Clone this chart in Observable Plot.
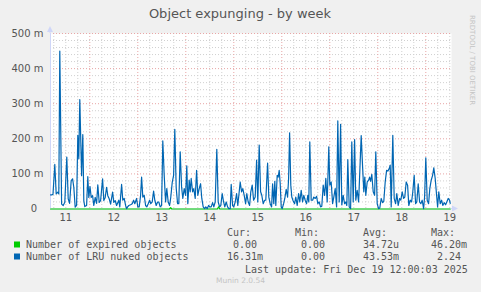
<!DOCTYPE html>
<html><head><meta charset="utf-8">
<script src="https://cdn.jsdelivr.net/npm/d3@7"></script>
<script src="https://cdn.jsdelivr.net/npm/@observablehq/plot@0.6"></script>
<style>
html,body{margin:0;padding:0;background:#f0f0f0;}
#chart{width:481px;height:292px;position:relative;}
svg{display:block;}
</style></head><body><div id="chart"></div>
<script>
// ---- chart texts ----
const chartTitle = "Object expunging - by week";
const watermark = "RRDTOOL / TOBI OETIKER";
const footer = "Munin 2.0.54";
const lastUpdate = "Last update: Fri Dec 19 12:00:03 2025";

// ---- x axis: hours since Dec 11 00:00; labels at noon of each day ----
const xDomain = [4.35, 204.85];
const dayHours = [12, 36, 60, 84, 108, 132, 156, 180, 204];
const dayLabels = ["11", "12", "13", "14", "15", "16", "17", "18", "19"];

// ---- y axis (milli units) ----
const yTicks = [0, 100, 200, 300, 400, 500];

// ---- legend ----
const seriesNames = ["Number of expired objects", "Number of LRU nuked objects"];
const seriesColors = ["#00cc00", "#0066b3"];
const statHeaders = ["Cur:", "Min:", "Avg:", "Max:"];
const expiredStats = [" 0.00", " 0.00", "34.72u", "46.20m"];
const lruStats = ["16.31m", " 0.00", "43.53m", " 2.24"];

// ---- series: Number of LRU nuked objects (milli) ----
const lruHours = [
  4.4,5.0,5.6,6.5,7.2,8.0,8.5,9.0,9.9,10.7,
  11.5,12.5,13.2,13.9,14.7,15.4,16.0,16.7,17.4,18.0,
  18.5,19.0,19.9,20.5,21.0,21.5,22.4,23.0,23.5,24.1,
  24.7,25.4,26.0,26.7,27.4,28.0,28.7,29.4,30.4,31.0,
  31.7,32.4,33.0,33.7,34.4,35.4,36.0,36.7,37.4,38.5,
  39.0,39.9,40.5,41.2,41.9,42.4,42.9,43.5,44.4,45.2,
  45.9,46.5,47.4,48.0,48.7,49.4,49.9,50.5,51.2,51.9,
  52.5,53.2,53.9,54.5,55.2,55.9,56.5,57.2,57.9,58.5,
  59.2,59.9,60.5,61.2,61.9,62.5,63.2,63.9,64.5,65.2,
  65.9,66.5,67.2,67.9,68.5,69.2,69.9,70.5,71.2,71.9,
  72.5,73.0,73.7,74.2,74.7,75.4,76.0,76.7,77.4,78.0,
  78.7,79.4,80.0,80.7,81.4,82.0,82.7,83.4,84.0,84.7,
  85.4,86.0,86.7,87.5,88.2,88.9,89.5,90.2,90.9,91.5,
  92.2,92.9,93.5,94.2,94.7,95.4,96.0,96.7,97.4,98.0,
  98.7,99.2,99.9,100.5,101.2,101.9,102.5,103.2,103.9,104.5,
  105.2,105.9,106.7,107.4,108.0,108.7,109.4,110.0,110.7,111.4,
  112.0,112.9,113.5,114.2,114.9,115.4,116.0,116.5,117.0,117.7,
  118.2,118.7,119.2,119.7,120.2,120.9,121.5,122.2,122.9,123.4,
  123.9,124.5,125.0,125.7,126.4,127.0,127.7,128.4,129.0,129.7,
  130.4,131.0,131.7,132.4,133.0,133.5,134.0,134.7,135.4,136.0,
  136.7,137.4,138.0,138.7,139.4,140.0,140.7,141.4,142.0,142.7,
  143.5,144.0,144.7,145.4,146.0,146.7,147.4,148.0,148.7,149.4,
  150.0,150.7,151.4,152.0,152.5,153.0,153.7,154.4,155.0,155.7,
  156.4,157.0,157.7,158.4,159.0,159.7,160.4,161.0,161.5,162.0,
  162.7,163.4,163.9,164.4,165.0,165.7,166.4,167.0,167.7,168.4,
  169.0,169.7,170.4,171.0,171.7,172.4,173.0,173.7,174.2,174.7,
  175.5,176.2,176.9,177.5,178.2,178.9,179.5,180.2,180.9,181.5,
  182.2,182.9,183.5,184.2,184.9,185.5,186.2,186.9,187.5,188.2,
  188.9,189.5,190.2,190.9,191.4,192.0,192.7,193.4,194.0,194.7,
  195.4,196.0,196.7,197.4,197.9,198.5,199.2,199.9,200.5,201.2,
  201.9,202.5,203.2,203.9,204.2
];
const lruValues = [
  40,40,42,127,43,48,43,450,14,10,
  19,148,29,16,81,86,62,5,10,210,
  143,312,95,212,24,7,10,92,33,64,
  33,38,10,33,16,69,19,24,86,24,
  33,62,38,29,14,48,19,24,10,25,
  6,70,25,30,10,1,6,10,12,15,
  25,15,30,6,6,39,91,34,39,10,
  6,15,25,15,20,51,25,10,20,20,
  6,10,194,96,20,58,20,10,34,75,
  96,227,60,15,15,163,63,30,58,39,
  123,15,82,49,87,49,58,30,110,39,
  58,72,30,6,1,6,1,10,6,6,
  18,6,20,170,20,6,10,44,20,6,
  20,6,1,1,70,10,6,20,44,10,
  49,77,49,58,39,15,44,20,10,49,
  68,25,34,139,20,182,49,39,15,25,
  25,131,34,15,6,72,15,79,10,96,
  91,110,72,6,1,15,30,56,34,87,
  217,68,34,23,15,34,10,44,20,53,
  20,39,25,15,39,20,191,25,25,34,
  30,36,15,20,6,8,68,39,87,20,
  177,68,77,15,34,58,6,251,20,241,
  12,39,15,20,10,141,6,1,191,20,
  198,25,53,20,106,209,120,49,91,39,
  77,82,91,79,99,49,39,163,15,1,
  3,30,18,22,77,110,108,115,125,6,
  210,30,15,44,10,30,25,49,30,34,
  77,68,10,25,20,49,96,15,20,72,
  20,15,25,1,34,146,25,15,58,82,
  96,117,87,39,6,49,15,25,10,18,
  12,20,30,25,16
];

// ---- series: Number of expired objects (milli) ----
const expiredHours = [4.4, 63.8, 64.4, 65.0, 87.8, 88.4, 89.0, 204.2];
const expiredValues = [0, 0, 4, 0, 0, 6, 0, 0];

// ---- build ----
const lruData = lruHours.map((h, i) => ({h, v: lruValues[i]}));
const expiredData = expiredHours.map((h, i) => ({h, v: expiredValues[i]}));
const dayLabelOf = new Map(dayHours.map((h, i) => [h, dayLabels[i]]));
const minorX = d3.range(6, 205, 6).filter(h => h % 24 !== 0);
const majorX = d3.range(24, 205, 24);
const minorY = d3.range(20, 500, 20).filter(v => v % 100 !== 0);
const majorY = yTicks.filter(v => v > 0);

const axisColor = "#cfd6f8";
const minorGrid = "#d0d0d0";
const majorGrid = "#e8a6a6";
const fontColor = "#555";

const plot = Plot.plot({
  width: 481, height: 292,
  marginLeft: 50, marginRight: 30, marginTop: 33, marginBottom: 83.5,
  style: {background: "transparent", fontFamily: "DejaVu Sans, sans-serif", fontSize: "10px", color: fontColor, overflow: "visible"},
  x: {domain: xDomain, label: null},
  y: {domain: [0, 500], label: null},
  marks: [
    Plot.frame({fill: "white", stroke: "none"}),
    Plot.ruleX(minorX, {stroke: minorGrid, strokeDasharray: "1,2"}),
    Plot.ruleY(minorY, {stroke: minorGrid, strokeDasharray: "1,2"}),
    Plot.ruleX(majorX, {stroke: majorGrid, strokeDasharray: "1,2"}),
    Plot.ruleY(majorY, {stroke: majorGrid, strokeDasharray: "1,2"}),
    Plot.axisX({ticks: dayHours, tickFormat: d => dayLabelOf.get(d), tickSize: 0, tickPadding: 5, label: null}),
    Plot.axisY({ticks: yTicks, tickFormat: d => d === 0 ? "0\u00a0\u00a0" : d + " m", tickSize: 0, tickPadding: 7, label: null}),
    Plot.ruleX([xDomain[0]], {stroke: axisColor}),
    Plot.ruleY([0], {stroke: axisColor}),
    Plot.line(expiredData, {x: "h", y: "v", stroke: seriesColors[0], strokeWidth: 1.2}),
    Plot.line(lruData, {x: "h", y: "v", stroke: seriesColors[1], strokeWidth: 1.2})
  ]
});
document.getElementById("chart").appendChild(plot);

// ---- decorations: arrows, title, watermark, legend ----
const svg = d3.select(plot);
const sx = plot.scale("x"), sy = plot.scale("y");
const xL = sx.apply(xDomain[0]), xR = sx.apply(xDomain[1]);
const yB = sy.apply(0), yT = sy.apply(500);

svg.append("line").attr("x1", xL).attr("x2", xL).attr("y1", yT).attr("y2", yT - 3).attr("stroke", axisColor);
svg.append("path").attr("d", `M${xL - 3},${yT - 1} L${xL + 3},${yT - 1} L${xL},${yT - 7} Z`).attr("fill", axisColor);
svg.append("line").attr("x1", xR).attr("x2", xR + 3).attr("y1", yB).attr("y2", yB).attr("stroke", axisColor);
svg.append("path").attr("d", `M${xR + 1},${yB - 3} L${xR + 1},${yB + 3} L${xR + 7},${yB} Z`).attr("fill", axisColor);

const addText = (t, x, y, opts = {}) => svg.append("text").text(t)
  .attr("x", x).attr("y", y)
  .attr("text-anchor", opts.anchor || "start")
  .attr("font-family", opts.family || "DejaVu Sans, sans-serif")
  .attr("font-size", opts.size || 10)
  .attr("fill", opts.fill || fontColor);

addText(chartTitle, 240, 17.5, {anchor: "middle", size: 13});

svg.append("text").text(watermark)
  .attr("transform", "translate(469.5,15) rotate(90)")
  .attr("text-anchor", "start")
  .attr("font-family", "DejaVu Sans, sans-serif").attr("font-size", 7).attr("fill", "#c4c4c4");

const mono = "DejaVu Sans Mono, monospace";
const nb = s => s.replace(/ /g, "\u00a0");
const colX = [227, 295, 363, 431];
statHeaders.forEach((t, i) => addText(t, colX[i], 236, {family: mono}));
const rows = [expiredStats, lruStats];
rows.forEach((stats, r) => {
  const base = 248 + r * 12;
  svg.append("rect").attr("x", 14).attr("y", base - 6.5).attr("width", 6).attr("height", 6).attr("fill", seriesColors[r]);
  addText(seriesNames[r], 26, base, {family: mono});
  stats.forEach((s, i) => addText(nb(s), colX[i], base, {family: mono}));
});
addText(lastUpdate, 245, 272.5, {family: mono});
addText(footer, 240.5, 283, {anchor: "middle", size: 7.5, fill: "#c4c4c4"});
</script>
</body></html>
